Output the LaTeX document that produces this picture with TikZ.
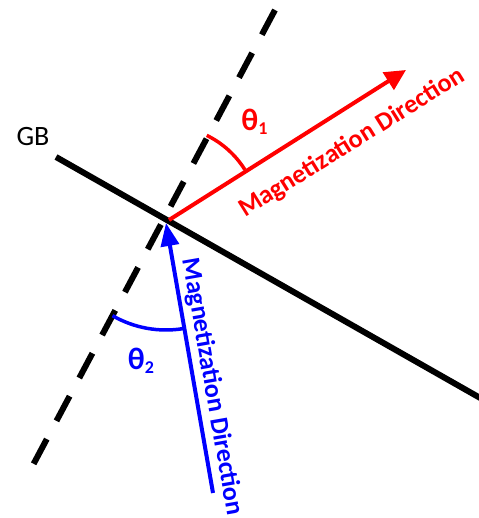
\documentclass[tikz,border=0pt]{standalone}
\usepackage{fontspec}
\setmainfont{Carlito}
\usetikzlibrary{arrows.meta}
\newcommand{\thetasub}[1]{{\fontsize{31}{34}\selectfont θ}\raisebox{-4pt}{\fontsize{18}{20}\selectfont #1}}
\begin{document}
\begin{tikzpicture}[x=1pt,y=1pt,
  gbline/.style={line width=6pt},
  gbdash/.style={line width=6pt, dash pattern=on 28pt off 20.6pt},
  redarrow/.style={draw=red, line width=4pt, -{Triangle[length=21pt,width=20pt]}},
  bluearrow/.style={draw=blue, line width=4pt, -{Triangle[length=23pt,width=18pt]}},
  anglearc/.style={line width=3.5pt},
  lbl/.style={inner sep=0pt, font=\bfseries\fontsize{26}{30}\selectfont},
  gblbl/.style={inner sep=0pt, font=\fontsize{28}{32}\selectfont}
]
\useasboundingbox (0,0) rectangle (478,518);
% coordinates (y up)
\coordinate (GBa) at (56,361);
\coordinate (GBb) at (482,119);
\coordinate (Da) at (275,508);
\coordinate (Db) at (33,53);
\coordinate (O) at (169,298);
\coordinate (R) at (406,448);
\coordinate (T) at (166,295);
\coordinate (B) at (213,25);
\coordinate (C1) at (166,299);
% lines
\draw[gbdash] (Da) -- (Db);
\draw[gbline] (GBa) -- (GBb);
\draw[redarrow] (O) -- (R);
\draw[bluearrow] (B) -- (T);
% angle arcs
\draw[anglearc, red] (C1) ++(32:93) arc[start angle=32, end angle=64, radius=93];
\draw[anglearc, blue] (T) ++(240:107) arc[start angle=240, end angle=279.5, radius=107];
% labels
\node[gblbl] (gb) at (33,381) {GB};
\node[lbl, red] (t1) at (254.5,396) {\thetasub{1}};
\node[lbl, blue] (t2) at (141,157) {\thetasub{2}};
\node[lbl, red, rotate=32] (m1) at (352,375) {Magnetization Direction};
\node[lbl, blue, rotate=-80.1] (m2) at (212,131) {Magnetization Direction};
\end{tikzpicture}
\end{document}
